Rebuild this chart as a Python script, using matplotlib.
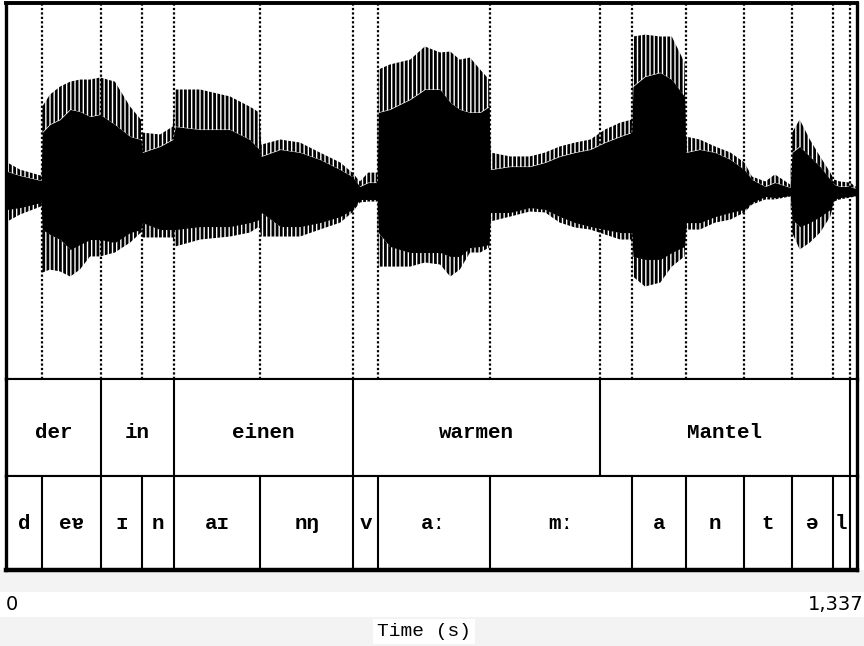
import matplotlib
matplotlib.use("Agg")
import matplotlib.pyplot as plt
from matplotlib.patches import Rectangle

# time range of the sound (s)
t_start = 0.0
t_end = 1.337

# waveform envelope: time (s) and amplitude
wave_t = [0.002, 0.022, 0.055, 0.057, 0.069, 0.085, 0.101, 0.116, 0.132, 0.148,
          0.171, 0.195, 0.212, 0.214, 0.242, 0.262, 0.266, 0.305, 0.352, 0.383,
          0.398, 0.401, 0.431, 0.462, 0.493, 0.525, 0.544, 0.556, 0.569, 0.583,
          0.585, 0.603, 0.635, 0.658, 0.682, 0.698, 0.713, 0.729, 0.745, 0.759,
          0.761, 0.792, 0.823, 0.847, 0.870, 0.894, 0.918, 0.941, 0.965, 0.983,
          0.985, 1.004, 1.028, 1.046, 1.066, 1.068, 1.090, 1.114, 1.138, 1.160,
          1.172, 1.193, 1.208, 1.232, 1.235, 1.247, 1.263, 1.279, 1.295, 1.301,
          1.310, 1.326, 1.335]
# peaks of the single periods (outer) and the solid body (inner)
outer_top = [0.152, 0.114, 0.082, 0.449, 0.513, 0.556, 0.582, 0.593, 0.593, 0.604,
             0.582, 0.449, 0.380, 0.311, 0.301, 0.343, 0.540, 0.540, 0.503, 0.449,
             0.418, 0.247, 0.274, 0.258, 0.205, 0.152, 0.098, 0.051, 0.098, 0.098,
             0.646, 0.673, 0.699, 0.769, 0.737, 0.742, 0.699, 0.710, 0.646, 0.593,
             0.205, 0.184, 0.184, 0.205, 0.237, 0.258, 0.274, 0.327, 0.364, 0.380,
             0.822, 0.832, 0.822, 0.822, 0.684, 0.290, 0.274, 0.237, 0.205, 0.152,
             0.077, 0.051, 0.088, 0.035, 0.311, 0.380, 0.274, 0.184, 0.098, 0.061,
             0.051, 0.045, 0.024]
inner_top = [0.104, 0.082, 0.056, 0.311, 0.354, 0.380, 0.434, 0.423, 0.396, 0.407,
             0.354, 0.290, 0.274, 0.205, 0.237, 0.274, 0.343, 0.327, 0.327, 0.274,
             0.221, 0.184, 0.221, 0.205, 0.168, 0.114, 0.077, 0.024, 0.045, 0.045,
             0.418, 0.434, 0.487, 0.540, 0.540, 0.471, 0.434, 0.418, 0.418, 0.449,
             0.114, 0.130, 0.130, 0.152, 0.184, 0.205, 0.221, 0.258, 0.290, 0.311,
             0.556, 0.609, 0.630, 0.593, 0.503, 0.205, 0.221, 0.205, 0.168, 0.114,
             0.061, 0.024, 0.045, 0.019, 0.205, 0.237, 0.184, 0.130, 0.061, 0.035,
             0.024, 0.024, 0.013]
inner_bottom = [-0.098, -0.088, -0.061, -0.205, -0.231, -0.258, -0.311, -0.285, -0.258, -0.258,
                -0.274, -0.221, -0.205, -0.168, -0.205, -0.205, -0.205, -0.189, -0.189, -0.168,
                -0.152, -0.114, -0.189, -0.189, -0.168, -0.136, -0.098, -0.045, -0.045, -0.045,
                -0.221, -0.295, -0.327, -0.327, -0.327, -0.348, -0.348, -0.301, -0.295, -0.285,
                -0.114, -0.114, -0.088, -0.098, -0.136, -0.168, -0.189, -0.205, -0.221, -0.221,
                -0.348, -0.364, -0.364, -0.327, -0.295, -0.168, -0.168, -0.136, -0.114, -0.098,
                -0.061, -0.029, -0.035, -0.024, -0.152, -0.189, -0.168, -0.136, -0.098, -0.045,
                -0.035, -0.029, -0.024]
outer_bottom = [-0.162, -0.125, -0.082, -0.434, -0.418, -0.428, -0.455, -0.418, -0.348, -0.348,
                -0.327, -0.274, -0.221, -0.247, -0.247, -0.247, -0.295, -0.258, -0.242, -0.221,
                -0.189, -0.242, -0.242, -0.242, -0.205, -0.168, -0.114, -0.061, -0.056, -0.056,
                -0.402, -0.402, -0.402, -0.380, -0.391, -0.455, -0.418, -0.327, -0.327, -0.301,
                -0.162, -0.136, -0.109, -0.114, -0.168, -0.194, -0.205, -0.231, -0.258, -0.258,
                -0.455, -0.508, -0.487, -0.402, -0.348, -0.205, -0.205, -0.168, -0.152, -0.114,
                -0.072, -0.045, -0.045, -0.029, -0.221, -0.311, -0.274, -0.221, -0.136, -0.056,
                -0.045, -0.035, -0.029]

# word tier
words = ["der", "in", "einen", "warmen", "Mantel", ""]
word_bounds = [0.1488, 0.2639, 0.5457, 0.9332, 1.3260]

# phone tier
phones = ["d", "eɐ", "ɪ", "n", "aɪ", "nŋ", "v", "aː", "mː", "a", "n", "t", "ə", "l", ""]
phone_bounds = [0.0561, 0.1488, 0.2141, 0.2639, 0.3991, 0.5457, 0.5840, 0.7604,
                0.9840, 1.0683, 1.1600, 1.2344, 1.2988, 1.3260]

label_font = ["Liberation Mono", "DejaVu Sans Mono"]

fig = plt.figure(figsize=(8.64, 6.46), dpi=100)
fig.patch.set_facecolor("white")
plt.rcParams["hatch.color"] = "black"
plt.rcParams["hatch.linewidth"] = 2.0

# faint grey bands under the picture
fig.add_artist(Rectangle((0, 0.083), 1, 0.035, transform=fig.transFigure,
                         facecolor="#f3f3f3", edgecolor="none", zorder=-5))
fig.add_artist(Rectangle((0, 0.0), 1, 0.045, transform=fig.transFigure,
                         facecolor="#f3f3f3", edgecolor="none", zorder=-5))

left, width = 6 / 864, 851 / 864
axw = fig.add_axes([left, 0.4133, width, 0.5820])
ax1 = fig.add_axes([left, 0.2632, width, 0.1502])
ax2 = fig.add_axes([left, 0.1176, width, 0.1455])

axw.fill_between(wave_t, inner_top, outer_top, facecolor="none", edgecolor="black",
                 hatch="||||", linewidth=0)
axw.fill_between(wave_t, outer_bottom, inner_bottom, facecolor="none", edgecolor="black",
                 hatch="||||", linewidth=0)
axw.fill_between(wave_t, inner_bottom, inner_top, color="black", linewidth=0)
for b in sorted(set(word_bounds + phone_bounds)):
    axw.axvline(b, color="black", lw=1.6, ls=(0, (1, 1)))
axw.set_ylim(-1, 1)

def draw_tier(ax, labels, bounds, ypos):
    edges = [t_start] + bounds + [t_end]
    for b in bounds:
        ax.axvline(b, color="black", lw=1.5)
    for i, lab in enumerate(labels):
        mid = (edges[i] + edges[i + 1]) / 2
        ax.text(mid, ypos, lab, ha="center", va="center", fontsize=15,
                family=label_font, fontweight="bold", color="black")
    ax.set_ylim(0, 1)

draw_tier(ax1, words, word_bounds, 0.45)
draw_tier(ax2, phones, phone_bounds, 0.5)

for ax in (axw, ax1, ax2):
    ax.set_xlim(t_start, t_end)
    ax.set_xticks([])
    ax.set_yticks([])
    ax.set_facecolor("white")
    for s in ("left", "right"):
        ax.spines[s].set_linewidth(2.4)
    ax.spines["top"].set_linewidth(1.5)
    ax.spines["bottom"].set_linewidth(1.5)
axw.spines["top"].set_linewidth(2.8)
ax2.spines["bottom"].set_linewidth(3.2)

# time range labels under the frame
fig.text(6 / 864, 0.0635, "0", ha="left", va="center", fontsize=14,
         family=["Liberation Sans Narrow", "DejaVu Sans"])
fig.text(863 / 864, 0.0635, f"{t_end:.3f}".replace(".", ","), ha="right", va="center",
         fontsize=14, family=["Liberation Sans Narrow", "DejaVu Sans"])
fig.text(424 / 864, 0.022, "Time (s)", ha="center", va="center", fontsize=14,
         family=label_font,
         bbox=dict(facecolor="white", edgecolor="none", pad=3))

fig.savefig("out.png", dpi=100, facecolor=fig.get_facecolor())
